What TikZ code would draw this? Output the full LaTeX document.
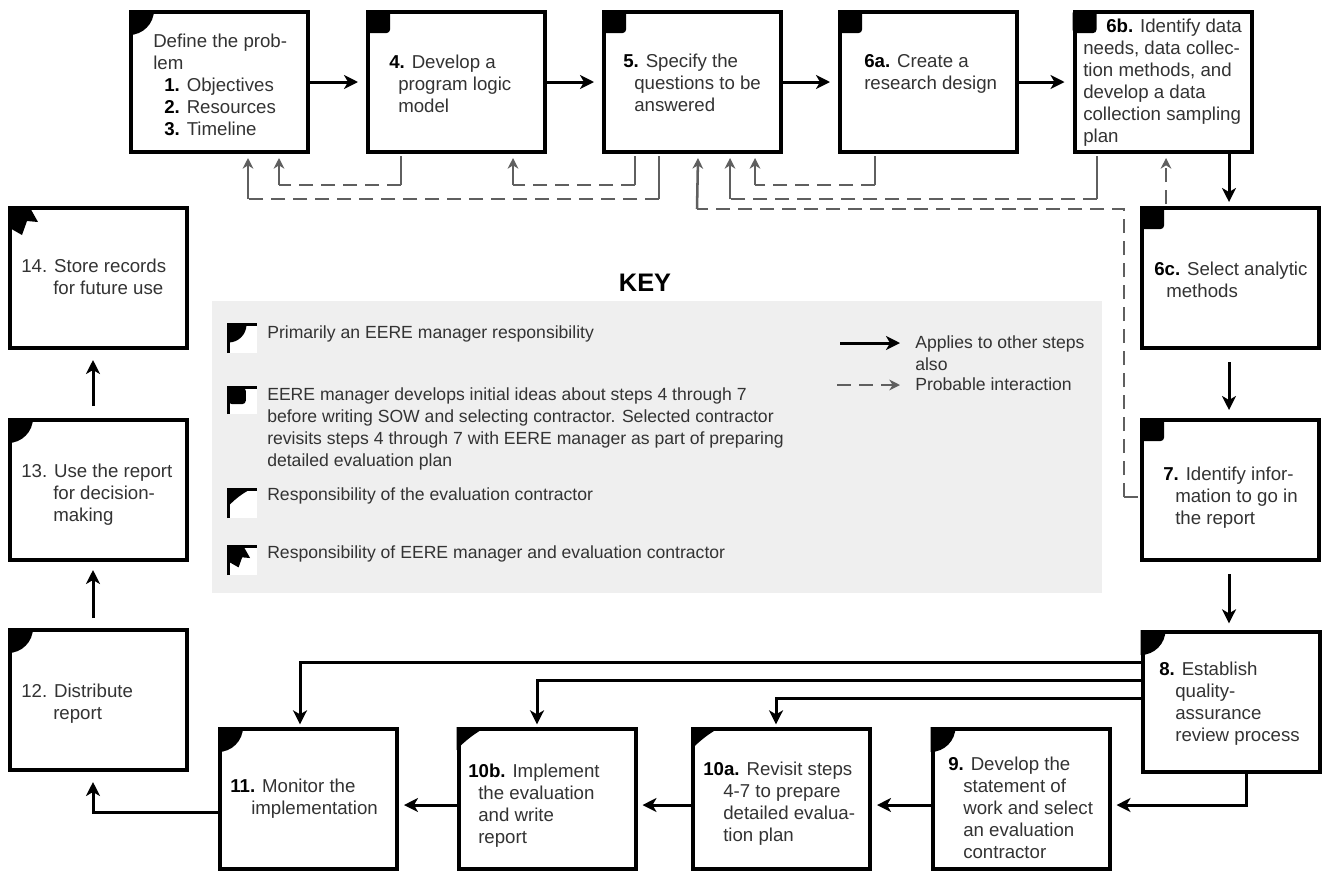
\documentclass[tikz,border=0pt]{standalone}
\usepackage{fontspec}
\setmainfont{Liberation Sans}
\usetikzlibrary{arrows.meta,calc}
\definecolor{keybg}{HTML}{EFEFEF}
\definecolor{dgray}{HTML}{5F5F5F}
\definecolor{txtc}{HTML}{333333}
\tikzset{
 mgr/.pic={\fill (0,0) -- (25,0) .. controls (25,13.8) and (13.8,25) .. (0,25) -- cycle;},
 sqm/.pic={\fill[rounded corners=2.5pt] (0,0) rectangle (24,23);},
 con/.pic={\fill (0,0) -- (30,0) .. controls (20,5) and (8,14) .. (0,23) -- cycle;},
 both/.pic={\fill (0,0) -- (21,0) -- (30,16) -- (19,15) -- (14,29) -- (0,21) -- cycle;},
}
\begin{document}
\begin{tikzpicture}[x=0.75pt,y=-0.75pt,
 box/.style={draw, line width=3pt, minimum width=132.75pt, minimum height=105pt, inner sep=0pt, fill=white},
 txt/.style={anchor=north west, inner sep=0pt, align=left, text=txtc, font=\fontsize{14}{16.5}\selectfont},
 ktxt/.style={anchor=north west, inner sep=0pt, align=left, text=txtc, font=\fontsize{13.2}{16.5}\selectfont},
 arr/.style={draw, line width=2.25pt, -{Stealth[length=10.5pt,width=10.5pt,inset=3pt]}},
 gs/.style={draw=dgray, line width=1.9pt},
 gd/.style={gs, dash pattern=on 10.5pt off 6pt},
 gtip/.style={-{Stealth[length=8pt,width=8pt,inset=2.5pt]}},
]
\useasboundingbox (0,0) rectangle (1323,872);

% key background
\node[fill=keybg, minimum width=667.5pt, minimum height=219pt, inner sep=0pt] (keybox) at (657,447) {};
\node[font=\fontsize{19}{22}\selectfont\bfseries] (keyt) at (645,283) {KEY};

% boxes
\node[box] (b1) at (219.5,82) {};
\node[box] (b4) at (456.5,82) {};
\node[box] (b5) at (692.5,82) {};
\node[box] (b6a) at (928.5,82) {};
\node[box] (b6b) at (1163,82) {};
\node[box] (b6c) at (1230.5,278) {};
\node[box] (b7) at (1230.5,490) {};
\node[box] (b8) at (1231,702) {};
\node[box] (b9) at (1021,799) {};
\node[box] (b10a) at (781.5,799) {};
\node[box] (b10b) at (547,799) {};
\node[box] (b11) at (308.5,799) {};
\node[box] (b12) at (98.5,700) {};
\node[box] (b13) at (98.5,490) {};
\node[box] (b14) at (98.5,278) {};

% markers
\pic at (b1.north west) {mgr};
\pic at (b4.north west) {sqm};
\pic at (b5.north west) {sqm};
\pic at (b6a.north west) {sqm};
\pic at (b6b.north west) {sqm};
\pic at (b6c.north west) {sqm};
\pic at (b7.north west) {sqm};
\pic at (b8.north west) {mgr};
\pic at (b9.north west) {mgr};
\pic at (b10a.north west) {con};
\pic at (b10b.north west) {con};
\pic at (b11.north west) {mgr};
\pic at (b12.north west) {mgr};
\pic at (b13.north west) {mgr};
\pic at (b14.north west) {both};

% texts
\node[txt] (t1) at (153,32) {\strut Define the prob-\\lem\\\hspace*{8.25pt}\textbf{\color{black}1.} Objectives\\\hspace*{8.25pt}\textbf{\color{black}2.} Resources\\\hspace*{8.25pt}\textbf{\color{black}3.} Timeline};
\node[txt] (t4) at (389,53) {\strut\textbf{\color{black}4.} Develop a\\\hspace*{6.75pt}program logic\\\hspace*{6.75pt}model};
\node[txt] (t5) at (623,52) {\strut\textbf{\color{black}5.} Specify the\\\hspace*{8.25pt}questions to be\\\hspace*{8.25pt}answered};
\node[txt] (t6a) at (864,52) {\strut\textbf{\color{black}6a.} Create a\\research design};
\node[txt] (t6b) at (1083,17) {\strut\hspace*{17.25pt}\textbf{\color{black}6b.} Identify data\\needs, data collec-\\tion methods, and\\develop a data\\collection sampling\\plan};
\node[txt] (t6c) at (1154,260) {\strut\textbf{\color{black}6c.} Select analytic\\\hspace*{9pt}methods};
\node[txt] (t7) at (1163,465) {\strut\textbf{\color{black}7.} Identify infor-\\\hspace*{9pt}mation to go in\\\hspace*{9pt}the report};
\node[txt] (t8) at (1159,660) {\strut\textbf{\color{black}8.} Establish\\\hspace*{12pt}quality-\\\hspace*{12pt}assurance\\\hspace*{12pt}review process};
\node[txt] (t9) at (948,755) {\strut\textbf{\color{black}9.} Develop the\\\hspace*{11.25pt}statement of\\\hspace*{11.25pt}work and select\\\hspace*{11.25pt}an evaluation\\\hspace*{11.25pt}contractor};
\node[txt] (t10a) at (703,760) {\strut\textbf{\color{black}10a.} Revisit steps\\\hspace*{15pt}4-7 to prepare\\\hspace*{15pt}detailed evalua-\\\hspace*{15pt}tion plan};
\node[txt] (t10b) at (468,762) {\strut\textbf{\color{black}10b.} Implement\\\hspace*{7.5pt}the evaluation\\\hspace*{7.5pt}and write\\\hspace*{7.5pt}report};
\node[txt] (t11) at (230,777) {\strut\textbf{\color{black}11.} Monitor the\\\hspace*{15.75pt}implementation};
\node[txt] (t12) at (21,682) {\strut 12. Distribute\\\hspace*{24pt}report};
\node[txt] (t13) at (21,462) {\strut 13. Use the report\\\hspace*{24pt}for decision-\\\hspace*{24pt}making};
\node[txt] (t14) at (21,257) {\strut 14. Store records\\\hspace*{24pt}for future use};

% solid arrows
\draw[arr, shorten >=6pt] (b1.east) -- (b4.west);
\draw[arr, shorten >=6pt] (b4.east) -- (b5.west);
\draw[arr, shorten >=6pt] (b5.east) -- (b6a.west);
\draw[arr, shorten >=6pt] (b6a.east) -- (b6b.west);
\draw[arr, shorten >=3pt] ($(b6c.north |- b6b.south)+(-1.5,0)$) -- ($(b6c.north)+(-1.5,0)$);
\draw[arr, shorten <=9pt, shorten >=6pt] ($(b6c.south)+(-1.5,0)$) -- ($(b7.north)+(-1.5,0)$);
\draw[arr, shorten <=9pt, shorten >=5pt] ($(b7.south)+(-1.5,0)$) -- ($(b8.north)+(-2,0)$);
\draw[arr, shorten >=3.75pt] ($(b8.south)+(15,0)$) |- ($(b9.east)+(0,6)$);
\draw[arr, shorten >=3.75pt] ($(b9.west)+(0,6)$) -- ($(b10a.east)+(0,6)$);
\draw[arr, shorten >=3.75pt] ($(b10a.west)+(0,6)$) -- ($(b10b.east)+(0,6)$);
\draw[arr, shorten >=3.75pt] ($(b10b.west)+(0,6)$) -- ($(b11.east)+(0,6)$);
\draw[arr, shorten >=7.5pt] ($(b11.west)+(0,13)$) -| ($(b12.south)+(-5.5,0)$);
\draw[arr, shorten <=7.5pt, shorten >=6pt] ($(b12.north)+(-5.5,0)$) -- ($(b13.south)+(-5.5,0)$);
\draw[arr, shorten <=9pt, shorten >=7.5pt] ($(b13.north)+(-5.5,0)$) -- ($(b14.south)+(-5.5,0)$);
% fan from 8
\draw[arr, shorten >=2pt] ($(b8.west)+(0,-40)$) -| ($(b11.north)+(-8.5,0)$);
\draw[arr, shorten >=2pt] ($(b8.west)+(0,-22)$) -| ($(b10b.north)+(-10,0)$);
\draw[arr, shorten >=2pt] ($(b8.west)+(0,-4)$) -| ($(b10a.north)+(-5.5,0)$);

% dashed interactions
\draw[gs] ($(b4.south)+(-55.5,2)$) -- ++(0,29) coordinate (d1a);
\draw[gd] (d1a) -- ++(-122,0) coordinate (d1b);
\draw[gs,gtip] (d1b) -- ($(b1.south)+(59.5,4)$);

\draw[gs] ($(b5.south)+(-33.5,2)$) -- ++(0,43) coordinate (d2a);
\draw[gd] (d2a) -- ++(-411,0) coordinate (d2b);
\draw[gs,gtip] (d2b) -- ($(b1.south)+(28.5,4)$);

\draw[gs] ($(b5.south)+(-57.5,2)$) -- ++(0,29) coordinate (d3a);
\draw[gd] (d3a) -- ++(-122,0) coordinate (d3b);
\draw[gs,gtip] (d3b) -- ($(b4.south)+(56.5,4)$);

\draw[gs] ($(b6a.south)+(-53.5,2)$) -- ++(0,29) coordinate (d4a);
\draw[gd] (d4a) -- ++(-120,0) coordinate (d4b);
\draw[gs,gtip] (d4b) -- ($(b5.south)+(62.5,4)$);

\draw[gs] ($(b6b.south)+(-66,2)$) -- ++(0,43) coordinate (d5a);
\draw[gd] (d5a) -- ++(-367,0) coordinate (d5b);
\draw[gs,gtip] (d5b) -- ($(b5.south)+(37.5,4)$);

\draw[gs] ($(b7.west)+(-2,7)$) -- ++(-14,0) coordinate (d6a);
\draw[gd] (d6a) -- ++(0,-288) -- ++(-427,0) coordinate (d6b);
\draw[gs,gtip] (d6b) -- ($(b5.south)+(5.5,4)$);

\draw[gd,gtip] ($(b6c.north)+(-64.5,-2)$) -- ($(b6b.south)+(3,4)$);

% key icons
\fill[white] (227,323) rectangle (257,353);
\draw[line width=2.25pt] (228.5,353) -- (228.5,324.5) -- (257,324.5);
\pic[scale=0.72] at (228.5,324.5) {mgr};
\fill[white] (227,386) rectangle (257,414);
\draw[line width=2.25pt] (228.5,414) -- (228.5,387.5) -- (257,387.5);
\pic[scale=0.72] at (228.5,387.5) {sqm};
\fill[white] (227,488) rectangle (257,518);
\draw[line width=2.25pt] (228.5,518) -- (228.5,489.5) -- (257,489.5);
\pic[scale=0.72] at (228.5,489.5) {con};
\fill[white] (227,545) rectangle (257,575);
\draw[line width=2.25pt] (228.5,575) -- (228.5,546.5) -- (257,546.5);
\pic[scale=0.72] at (228.5,546.5) {both};

% key texts
\node[ktxt] (k1) at (267,323) {\strut Primarily an EERE manager responsibility};
\node[ktxt] (k2) at (267,385) {\strut EERE manager develops initial ideas about steps 4 through 7\\before writing SOW and selecting contractor. Selected contractor\\revisits steps 4 through 7 with EERE manager as part of preparing\\detailed evaluation plan};
\node[ktxt] (k3) at (267,485) {\strut Responsibility of the evaluation contractor};
\node[ktxt] (k4) at (267,543) {\strut Responsibility of EERE manager and evaluation contractor};
\coordinate (ka1) at (840,343);
\coordinate (ka2) at (900,343);
\draw[arr] (ka1) -- (ka2);
\coordinate (kb1) at (837,385);
\coordinate (kb2) at (900,385);
\draw[gd,gtip] (kb1) -- (kb2);
\node[ktxt] (ka) at (915,333) {\strut Applies to other steps\\also};
\node[ktxt] (kb) at (915,375) {\strut Probable interaction};
\end{tikzpicture}
\end{document}
